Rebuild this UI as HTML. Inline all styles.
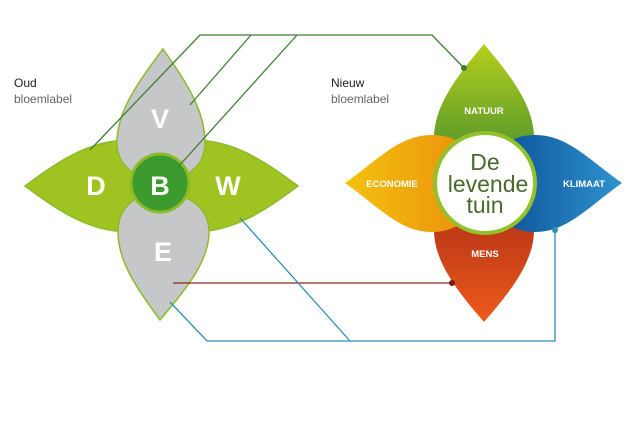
<!DOCTYPE html>
<html><head><meta charset="utf-8"><style>
body{margin:0;background:#fff;width:635px;height:422px;overflow:hidden}
svg{display:block}
text{font-family:"Liberation Sans",sans-serif}
</style></head><body>
<svg width="635" height="422" viewBox="0 0 635 422">
<defs>
<linearGradient id="gN" x1="0" y1="0" x2="0" y2="1"><stop offset="0" stop-color="#b6cf1e"/><stop offset="1" stop-color="#3e8a2e"/></linearGradient>
<linearGradient id="gE" x1="0" y1="0" x2="1" y2="0"><stop offset="0" stop-color="#f5c20e"/><stop offset="1" stop-color="#e98d0c"/></linearGradient>
<linearGradient id="gK" x1="0" y1="0" x2="1" y2="0"><stop offset="0" stop-color="#0a4e94"/><stop offset="1" stop-color="#2f92cf"/></linearGradient>
<linearGradient id="gM" x1="0" y1="0" x2="0" y2="1"><stop offset="0" stop-color="#a82b16"/><stop offset="1" stop-color="#ee5a1c"/></linearGradient>
</defs>
<text x="14" y="87" font-size="12" fill="#222">Oud</text>
<text x="14" y="103" font-size="12" fill="#666">bloemlabel</text>
<text x="331" y="87" font-size="12" fill="#222">Nieuw</text>
<text x="331" y="103" font-size="12" fill="#666">bloemlabel</text>
<g stroke="#8dbb2a" stroke-width="1.5">
<path d="M25,186 C60,160 90,140 130,140 C155,140 162,160 162,186 C162,212 155,232 130,232 C90,232 60,212 25,186Z" fill="#9fc320"/>
<path d="M298,186 C263,160 233,140 193,140 C168,140 160,160 160,186 C160,212 168,232 193,232 C233,232 263,212 298,186Z" fill="#9fc320"/>
<path d="M163,49 C185,80 205,110 205,142 C205,168 185,180 161,180 C138,180 117,168 117,142 C117,110 140,80 163,49Z" fill="#c6c7c9"/>
<path d="M160,320 C138,290 118,262 118,232 C118,205 138,193 161,193 C185,193 209,205 209,232 C209,262 185,290 160,320Z" fill="#c6c7c9"/>
</g>
<circle cx="160" cy="183" r="29" fill="#3c9a2f" stroke="#8dbb2a" stroke-width="3"/>
<g font-weight="bold" fill="#fff" text-anchor="middle" font-size="27">
<text x="160" y="128">V</text>
<text x="96" y="195">D</text>
<text x="160" y="195">B</text>
<text x="228" y="195">W</text>
<text x="163" y="261">E</text>
</g>
<g fill="none" stroke-width="1.3">
<polyline points="90,150 200,35 432,35 464,68" stroke="#3f7f35"/>
<line x1="190" y1="105" x2="251" y2="35" stroke="#3f7f35"/>
<line x1="178" y1="167" x2="297" y2="35" stroke="#3f7f35"/>
<line x1="173" y1="283" x2="452" y2="283" stroke="#8a2a1a"/>
<polyline points="240,218 350,341" stroke="#2f8fb6"/>
<polyline points="170,302 207,341 555,341 555,230" stroke="#2f8fb6"/>
</g>
<path d="M484,44 C510,75 534,105 534,138 C534,165 510,178 484,178 C458,178 434,165 434,138 C434,105 458,75 484,44Z" fill="url(#gN)"/>
<path d="M484,322 C510,292 534,262 534,230 C534,202 510,188 484,188 C458,188 434,202 434,230 C434,262 458,292 484,322Z" fill="url(#gM)"/>
<path d="M345,183 C380,158 400,135 432,135 C462,135 480,155 480,183 C480,211 462,232 432,232 C400,232 380,208 345,183Z" fill="url(#gE)"/>
<path d="M622,183 C587,158 567,135 535,135 C505,135 490,155 490,183 C490,211 505,232 535,232 C567,232 587,208 622,183Z" fill="url(#gK)"/>
<circle cx="464" cy="68" r="3" fill="#3f7f35"/>
<circle cx="452" cy="283" r="3" fill="#7a1a10"/>
<circle cx="555" cy="230" r="3" fill="#2f8fb6"/>
<circle cx="485" cy="183" r="50" fill="#fff" stroke="#93c12a" stroke-width="4"/>
<g font-weight="bold" fill="#fff" text-anchor="middle" font-size="9.5">
<text x="484" y="114">NATUUR</text>
<text x="392" y="187">ECONOMIE</text>
<text x="584" y="187">KLIMAAT</text>
<text x="485" y="257">MENS</text>
</g>
<g fill="#4a6a2c" text-anchor="middle" font-size="23">
<text x="485" y="170">De</text>
<text x="488" y="192">levende</text>
<text x="485" y="213">tuin</text>
</g>
</svg>
</body></html>
